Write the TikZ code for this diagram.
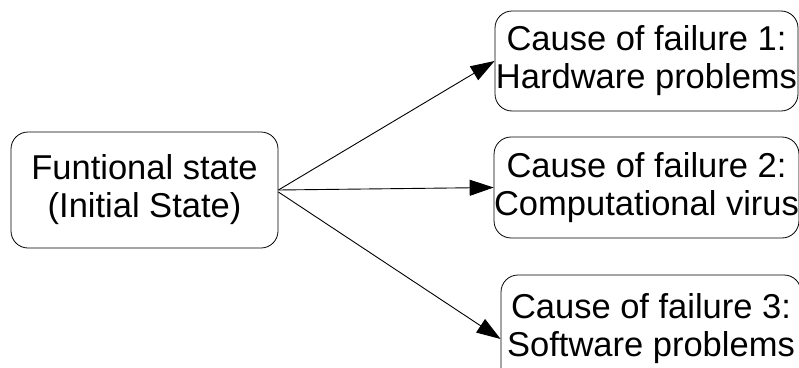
\documentclass[tikz,border=0pt]{standalone}
\usepackage{fontspec}
\setmainfont{Liberation Sans}
\usetikzlibrary{arrows.meta}
\tikzset{
  box/.style={draw, line width=0.8pt, rounded corners=17pt, align=center, inner sep=0pt,
    font=\fontsize{34.5}{38}\selectfont},
  conn/.style={line width=0.9pt, -{Triangle[length=24pt,width=16pt]}}
}
\begin{document}
\begin{tikzpicture}[x=1pt,y=-1pt]
\useasboundingbox (0,0) rectangle (799,367);
\node[box, minimum width=267pt, minimum height=116pt] (a) at (144.5,190) {Funtional state\\(Initial State)};
\node[box, minimum width=303pt, minimum height=100pt] (b1) at (646.5,61) {Cause of failure 1:\\Hardware problems};
\node[box, minimum width=303pt, minimum height=101pt] (b2) at (646.5,187.5) {Cause of failure 2:\\Computational virus};
\node[box, minimum width=300pt, minimum height=110pt] (b3) at (651,330) {\raisebox{10pt}{\begin{tabular}{@{}c@{}}Cause of failure 3:\\Software problems\end{tabular}}};
\draw[conn] (a.east) -- (b1.west);
\draw[conn] (a.east) -- (b2.west);
\draw[conn] ([yshift=-2pt]a.east) -- ([yshift=-9pt]b3.west);
\end{tikzpicture}
\end{document}
